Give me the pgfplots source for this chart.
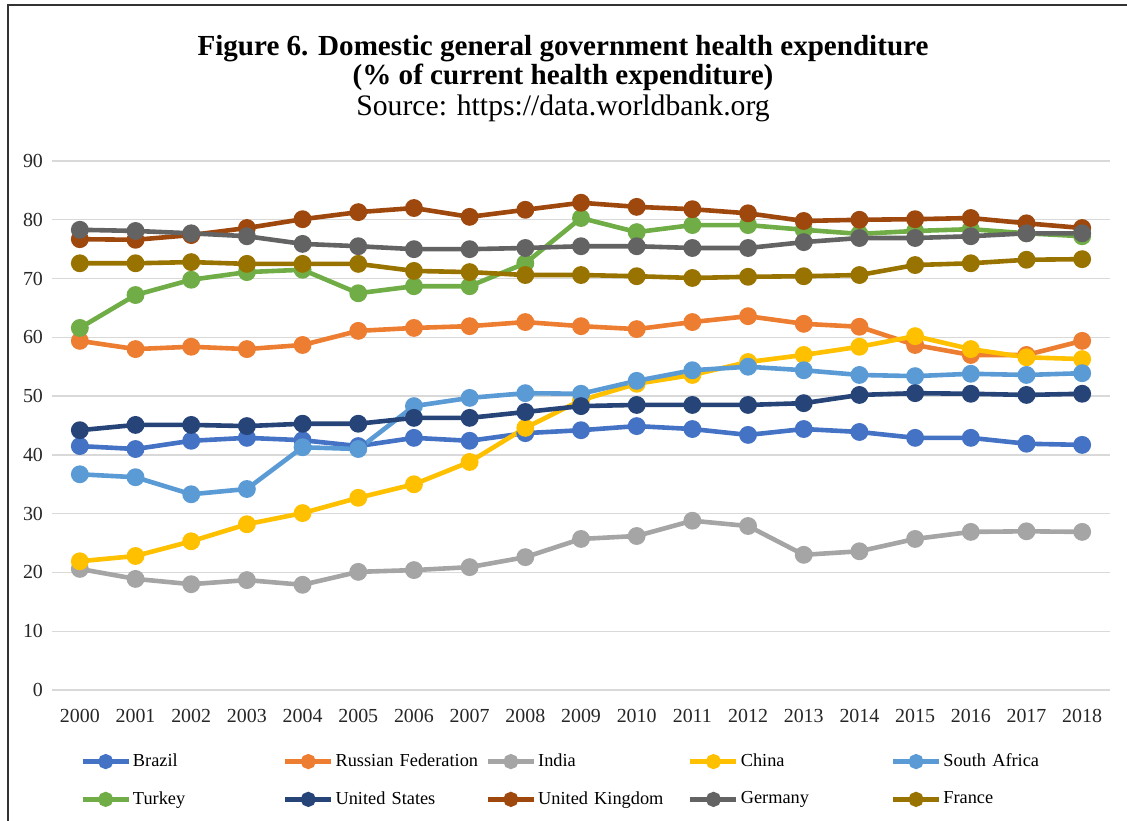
\documentclass[border=0pt]{standalone}
\usepackage{fontspec}
\setmainfont{Liberation Serif}
\usepackage{pgfplots}
\pgfplotsset{compat=1.18}
\definecolor{cBrazil}{HTML}{4472C4}
\definecolor{cRussia}{HTML}{ED7D31}
\definecolor{cIndia}{HTML}{A5A5A5}
\definecolor{cChina}{HTML}{FFC000}
\definecolor{cSA}{HTML}{5B9BD5}
\definecolor{cTurkey}{HTML}{70AD47}
\definecolor{cUS}{HTML}{264478}
\definecolor{cUK}{HTML}{9E480E}
\definecolor{cGermany}{HTML}{636363}
\definecolor{cFrance}{HTML}{997300}
\begin{document}
\begin{tikzpicture}
\begin{axis}[
  name=ax,
  scale only axis,
  width=529bp, height=264.5bp,
  xmin=1999.5, xmax=2018.5,
  ymin=0, ymax=90,
  xtick={2000,2001,...,2018},
  ytick={0,10,...,90},
  xticklabel style={/pgf/number format/1000 sep={}},
  /pgf/number format/assume math mode=true,
  ticklabel style={font=\fontsize{10}{12}\selectfont, color=black!85},
  yticklabel style={xshift=-1bp},
  xticklabel style={yshift=-6bp},
  axis line style={draw=none},
  major tick length=0pt,
  ymajorgrids,
  grid style={color=black!15, line width=0.7bp},
  every axis plot/.append style={line width=2.3bp, mark=*, mark size=3.3bp},
  legend columns=5,
  legend cell align=left,
  legend style={draw=none, fill=none, at={(0.0208,-0.112)}, anchor=north west,
    font=\fontsize{9.2}{11}\selectfont,
    nodes={text width=75bp, align=left, inner sep=0pt, anchor=west},
    /tikz/every odd column/.append style={column sep=1bp},
    row sep=11bp},
  legend image code/.code={\draw[#1, mark repeat=2, mark phase=2, mark size=2.6bp] plot coordinates {(0bp,0bp)(11.5bp,0bp)(23bp,0bp)};},
]
\addplot[color=cBrazil, mark options={fill=cBrazil}] coordinates {
(2000,41.5)(2001,41.0)(2002,42.4)(2003,42.9)(2004,42.5)(2005,41.5)(2006,42.9)(2007,42.4)(2008,43.7)(2009,44.2)(2010,44.9)(2011,44.4)(2012,43.4)(2013,44.4)(2014,43.9)(2015,42.9)(2016,42.9)(2017,41.9)(2018,41.7)};
\addlegendentry{Brazil}
\addplot[color=cRussia, mark options={fill=cRussia}] coordinates {
(2000,59.4)(2001,58.0)(2002,58.4)(2003,58.0)(2004,58.7)(2005,61.1)(2006,61.6)(2007,61.9)(2008,62.6)(2009,61.9)(2010,61.4)(2011,62.6)(2012,63.6)(2013,62.3)(2014,61.8)(2015,58.7)(2016,57.0)(2017,57.0)(2018,59.4)};
\addlegendentry{Russian Federation}
\addplot[color=cIndia, mark options={fill=cIndia}] coordinates {
(2000,20.6)(2001,18.9)(2002,18.0)(2003,18.7)(2004,17.9)(2005,20.1)(2006,20.4)(2007,20.9)(2008,22.6)(2009,25.7)(2010,26.2)(2011,28.8)(2012,27.9)(2013,23.0)(2014,23.6)(2015,25.7)(2016,26.9)(2017,27.0)(2018,26.9)};
\addlegendentry{India}
\addplot[color=cChina, mark options={fill=cChina}] coordinates {
(2000,21.9)(2001,22.8)(2002,25.3)(2003,28.2)(2004,30.1)(2005,32.7)(2006,35.0)(2007,38.8)(2008,44.6)(2009,49.3)(2010,52.1)(2011,53.6)(2012,55.8)(2013,57.0)(2014,58.4)(2015,60.2)(2016,58.0)(2017,56.6)(2018,56.3)};
\addlegendentry{China}
\addplot[color=cSA, mark options={fill=cSA}] coordinates {
(2000,36.7)(2001,36.2)(2002,33.3)(2003,34.2)(2004,41.3)(2005,41.0)(2006,48.3)(2007,49.7)(2008,50.5)(2009,50.4)(2010,52.6)(2011,54.4)(2012,55.0)(2013,54.4)(2014,53.6)(2015,53.4)(2016,53.8)(2017,53.6)(2018,53.9)};
\addlegendentry{South Africa}
\addplot[color=cTurkey, mark options={fill=cTurkey}] coordinates {
(2000,61.6)(2001,67.2)(2002,69.8)(2003,71.1)(2004,71.5)(2005,67.5)(2006,68.7)(2007,68.7)(2008,72.6)(2009,80.3)(2010,77.9)(2011,79.1)(2012,79.1)(2013,78.3)(2014,77.6)(2015,78.1)(2016,78.4)(2017,77.7)(2018,77.2)};
\addlegendentry{Turkey}
\addplot[color=cUS, mark options={fill=cUS}] coordinates {
(2000,44.2)(2001,45.1)(2002,45.1)(2003,44.9)(2004,45.3)(2005,45.3)(2006,46.3)(2007,46.3)(2008,47.3)(2009,48.3)(2010,48.5)(2011,48.5)(2012,48.5)(2013,48.8)(2014,50.2)(2015,50.5)(2016,50.4)(2017,50.2)(2018,50.4)};
\addlegendentry{United States}
\addplot[color=cUK, mark options={fill=cUK}] coordinates {
(2000,76.7)(2001,76.6)(2002,77.4)(2003,78.6)(2004,80.1)(2005,81.3)(2006,82.0)(2007,80.5)(2008,81.7)(2009,82.9)(2010,82.2)(2011,81.8)(2012,81.1)(2013,79.8)(2014,80.0)(2015,80.1)(2016,80.3)(2017,79.4)(2018,78.6)};
\addlegendentry{United Kingdom}
\addplot[color=cGermany, mark options={fill=cGermany}] coordinates {
(2000,78.3)(2001,78.1)(2002,77.7)(2003,77.2)(2004,75.9)(2005,75.5)(2006,75.0)(2007,75.0)(2008,75.2)(2009,75.5)(2010,75.5)(2011,75.2)(2012,75.2)(2013,76.2)(2014,76.9)(2015,76.9)(2016,77.2)(2017,77.7)(2018,77.7)};
\addlegendentry{Germany}
\addplot[color=cFrance, mark options={fill=cFrance}] coordinates {
(2000,72.6)(2001,72.6)(2002,72.8)(2003,72.5)(2004,72.5)(2005,72.5)(2006,71.3)(2007,71.1)(2008,70.6)(2009,70.6)(2010,70.4)(2011,70.1)(2012,70.3)(2013,70.4)(2014,70.6)(2015,72.3)(2016,72.6)(2017,73.2)(2018,73.3)};
\addlegendentry{France}
\end{axis}
\path ([shift={(-26bp,-65.5bp)}]ax.south west) coordinate (bl);
\path ([shift={(537.5bp,345bp)}]ax.south west) coordinate (tr);
\path[use as bounding box] (bl) rectangle (tr);
\draw[line width=0.8bp, black!80] ([shift={(4bp,0bp)}]bl) |- ([shift={(0bp,-2.5bp)}]tr);
\node[font=\fontsize{14.6}{14.2}\selectfont\bfseries, align=center, anchor=center]
  at ([shift={(255.5bp,313.5bp)}]ax.south west)
  {Figure 6. Domestic general government health expenditure\\(\% of current health expenditure)};
\node[font=\fontsize{14.9}{16}\selectfont, anchor=center]
  at ([shift={(255.5bp,291bp)}]ax.south west) {Source: https://data.worldbank.org};
\end{tikzpicture}
\end{document}
